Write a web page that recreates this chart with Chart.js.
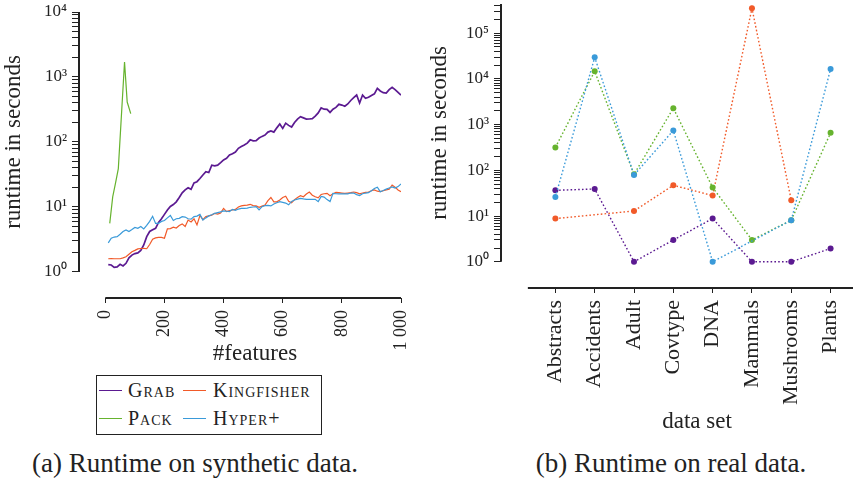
<!DOCTYPE html>
<html lang="en">
<head>
<meta charset="UTF-8">
<title>Runtime on synthetic and real data</title>
<style>
    body { margin: 0; background: #fff; font-family: "Liberation Serif", serif; color: #222; }
    #page { position: relative; width: 857px; height: 481px; overflow: hidden; }
    #synthBox { position: absolute; left: 0; top: 0; width: 420px; height: 370px; }
    #realBox { position: absolute; left: 420px; top: 0; width: 437px; height: 440px; }
    /* legend of the synthetic plot, boxed like the pgfplots one */
    #legend { position: absolute; left: 96px; top: 375px; width: 226px; height: 60px; box-sizing: border-box;
              border: 1px solid #222; font-size: 20px; font-variant: small-caps; letter-spacing: 1px; }
    #legend .sample { position: absolute; width: 23px; height: 0; border-top: 1.3px solid; }
    #legend .name { position: absolute; line-height: 20px; white-space: nowrap; }
    .caption { position: absolute; top: 450px; font-size: 27px; line-height: 27px; white-space: nowrap; transform: translateX(-50%); }
</style>
</head>
<body>
<div id="page">
    <div id="synthBox"><canvas id="synth"></canvas></div>
    <div id="realBox"><canvas id="real"></canvas></div>

    <div id="legend">
        <span class="sample" style="left:2px;top:14px;border-color:#5b1a91"></span><span class="name" style="left:31px;top:4px">Grab</span>
        <span class="sample" style="left:86px;top:14px;border-color:#f15a29"></span><span class="name" style="left:116px;top:4px">Kingfisher</span>
        <span class="sample" style="left:2px;top:42px;border-color:#66b32e"></span><span class="name" style="left:31px;top:32px">Pack</span>
        <span class="sample" style="left:86px;top:42px;border-color:#3a9ad9"></span><span class="name" style="left:116px;top:32px">Hyper+</span>
    </div>

    <div class="caption" style="left:195px">(a) Runtime on synthetic data.</div>
    <div class="caption" style="left:671px">(b) Runtime on real data.</div>
</div>

<script src="https://cdn.jsdelivr.net/npm/chart.js"></script>
<script>
    // ---- synthetic data: runtime (s) per number of features ----
    const features = [
        10, 20, 30, 40, 50, 60, 70, 80, 90, 100,
        110, 120, 130, 140, 150, 160, 170, 180, 190, 200,
        210, 220, 230, 240, 250, 260, 270, 280, 290, 300,
        310, 320, 330, 340, 350, 360, 370, 380, 390, 400,
        410, 420, 430, 440, 450, 460, 470, 480, 490, 500,
        510, 520, 530, 540, 550, 560, 570, 580, 590, 600,
        610, 620, 630, 640, 650, 660, 670, 680, 690, 700,
        710, 720, 730, 740, 750, 760, 770, 780, 790, 800,
        810, 820, 830, 840, 850, 860, 870, 880, 890, 900,
        910, 920, 930, 940, 950, 960, 970, 980, 990, 1000
    ];
    const grab = [
        1.30, 1.28, 1.18, 1.20, 1.31, 1.24, 1.36, 1.65, 1.82, 1.92,
        1.97, 2.15, 2.6, 3.5, 4.2, 4.45, 4.7, 5.8, 6.6, 7.7,
        9.0, 10.2, 10.9, 12.0, 14.0, 16.5, 18.3, 19.8, 18.7, 23.5,
        24.5, 27.4, 31, 35, 34, 44, 43, 44, 48, 53,
        56, 63, 66, 70, 80, 85, 90, 96, 108, 104,
        105, 115, 122, 128, 142, 148, 142, 165, 189, 162,
        195, 180, 170, 200, 225, 245, 235, 225, 226, 229,
        250, 280, 335, 320, 318, 285, 320, 340, 380, 370,
        355, 385, 435, 480, 527, 396, 527, 470, 487, 520,
        550, 670, 610, 575, 565, 640, 695, 640, 580, 527
    ];
    const kingfisher = [
        1.60, 1.61, 1.60, 1.60, 1.60, 1.65, 1.72, 1.88, 2.05, 2.15,
        2.27, 2.30, 2.31, 2.28, 2.65, 3.2, 3.35, 3.4, 3.41, 3.3,
        4.6, 4.65, 4.9, 4.75, 5.2, 5.5, 5.0, 6.3, 5.9, 6.6,
        5.3, 7.4, 6.4, 7.1, 7.3, 7.5, 8.0, 7.8, 8.1, 9.5,
        8.5, 8.8, 9.0, 9.2, 10.0, 10.4, 10.6, 10.7, 11.0, 10.5,
        10.4, 9.9, 10.3, 10.7, 12.5, 14.0, 12.0, 12.0, 12.8, 14.0,
        14.6, 12.2, 11.6, 13.0, 14.0, 14.9, 14.4, 15.8, 17.0, 15.2,
        14.4, 13.8, 15.6, 16.0, 16.2, 14.9, 16.0, 16.8, 16.6, 16.4,
        16.2, 16.4, 16.6, 17.0, 16.6, 15.9, 16.4, 16.8, 17.0, 17.8,
        18.3, 17.5, 17.2, 17.8, 18.3, 18.7, 21.8, 20.2, 18.3, 17.2
    ];
    const hyper = [
        2.8, 3.3, 3.45, 3.5, 3.8, 4.2, 4.45, 4.2, 4.5, 4.85,
        4.7, 5.0, 4.6, 5.2, 6.0, 7.2, 5.6, 5.6, 6.0, 6.2,
        6.8, 7.4, 6.2, 6.6, 6.7, 7.1, 7.0, 6.6, 6.5, 7.1,
        7.25, 7.7, 6.3, 6.8, 7.3, 7.6, 8.0, 8.2, 8.4, 8.7,
        8.6, 8.5, 9.2, 8.9, 9.3, 9.55, 9.55, 9.6, 9.9, 10.0,
        10.1, 9.0, 10.1, 10.5, 10.6, 10.4, 11.1, 11.6, 12.1, 11.8,
        11.5, 10.8, 12.2, 12.8, 13.2, 13.6, 13.3, 13.1, 13.1, 13.1,
        13.1, 12.1, 14.5, 14.2, 13.0, 12.1, 16.2, 16.0, 15.9, 15.9,
        15.9, 15.9, 16.4, 16.4, 15.5, 15.0, 16.0, 16.4, 16.6, 17.8,
        19.2, 20.2, 17.2, 17.9, 18.8, 19.6, 20.4, 19.5, 20.6, 22.6
    ];
    // Pack only finishes on the smallest instances
    const packFeatures = [15, 25, 35, 44, 65, 74, 86];
    const pack = [5.6, 14.3, 24, 39, 1700, 412, 273];

    // ---- real data: runtime (s) per data set, null = no result ----
    const dataSets = ['Abstracts', 'Accidents', 'Adult', 'Covtype', 'DNA', 'Mammals', 'Mushrooms', 'Plants'];
    const realGrab = [36.5, 39, 1, 3, 8.8, 1, 1, 1.95];
    const realKingfisher = [8.8, null, 12.9, 47, 28, 350000, 22, null];
    const realPack = [316, 14600, 81.5, 2280, 42, 3, 8.1, 660];
    const realHyper = [26, 29500, 79, 742, 1, null, 8.1, 16400];

    // ---- tick labels ----
    const featureTicks = [0, 200, 400, 600, 800, 1000];
    const featureTickLabels = ['0', '200', '400', '600', '800', '1 000'];
    const synthDecades = [1, 10, 100, 1000, 10000];
    const synthDecadeLabels = ['10⁰', '10¹', '10²', '10³', '10⁴'];
    const realDecades = [1, 10, 100, 1000, 10000, 100000];
    const realDecadeLabels = ['10⁰', '10¹', '10²', '10³', '10⁴', '10⁵'];

    const ink = '#222';
    const serif = '"Liberation Serif", serif';
    const colGrab = '#5b1a91', colKing = '#f15a29', colPack = '#66b32e', colHyper = '#3a9ad9';

    Chart.defaults.font.family = serif;
    Chart.defaults.color = ink;

    function pts(xs, ys) {
        return xs.map((x, i) => ({ x: x, y: ys[i] }));
    }

    // major + minor ticks (1..9 times each decade) up to the top of the axis
    function logTicks(decades, top) {
        const out = [];
        decades.forEach(d => {
            for (let m = 1; m <= 9; m++) if (m * d <= top) out.push({ value: m * d });
        });
        return out;
    }

    // keep the chart area exactly where the fixed box sizes put it
    function noPadding(scale) {
        scale.paddingTop = 0; scale.paddingBottom = 0;
        scale.paddingLeft = 0; scale.paddingRight = 0;
    }

    // pgfplots style: axis lines detached from each other, titles placed by hand
    const separatedAxes = {
        id: 'separatedAxes',
        afterDraw(chart, args, opts) {
            const { ctx, chartArea, scales } = chart;
            const x = scales.x, y = scales.y;
            const left = chartArea.left, bottom = chartArea.bottom;
            const yTop = opts.yTo == null ? chartArea.top : y.getPixelForValue(opts.yTo);
            const xEnd = opts.xTo == null ? chartArea.right : x.getPixelForValue(opts.xTo);

            ctx.save();
            ctx.strokeStyle = ink;
            ctx.lineWidth = 2;
            ctx.beginPath();
            ctx.moveTo(left, y.getPixelForValue(opts.yFrom));
            ctx.lineTo(left, yTop);
            ctx.moveTo(x.getPixelForValue(opts.xFrom), bottom);
            ctx.lineTo(xEnd, bottom);
            ctx.stroke();
            ctx.restore();

            ctx.save();
            ctx.fillStyle = ink;
            ctx.font = '23px ' + serif;
            ctx.textAlign = 'center';
            ctx.textBaseline = 'middle';
            ctx.fillText(opts.xTitle, opts.xTitleAt[0], opts.xTitleAt[1]);
            ctx.translate(opts.yTitleAt[0], opts.yTitleAt[1]);
            ctx.rotate(-Math.PI / 2);
            ctx.fillText(opts.yTitle, 0, 0);
            ctx.restore();
        }
    };

    const tickGrid = len => ({ display: true, drawOnChartArea: false, drawTicks: true, tickLength: len, color: ink, lineWidth: 1 });

    // (a) synthetic data
    new Chart(document.getElementById('synth'), {
        type: 'line',
        data: {
            datasets: [
                { label: 'Grab', data: pts(features, grab), borderColor: colGrab, borderWidth: 1.7, order: 3 },
                { label: 'Kingfisher', data: pts(features, kingfisher), borderColor: colKing, borderWidth: 1.2, order: 2 },
                { label: 'Pack', data: pts(packFeatures, pack), borderColor: colPack, borderWidth: 1.2, order: 1 },
                { label: 'Hyper+', data: pts(features, hyper), borderColor: colHyper, borderWidth: 1.2, order: 0 }
            ]
        },
        options: {
            responsive: true,
            maintainAspectRatio: false,
            animation: false,
            layout: { padding: { top: 12, right: 19, left: 0, bottom: 0 } },
            elements: { point: { radius: 0 }, line: { tension: 0, fill: false } },
            plugins: {
                legend: { display: false },
                tooltip: { enabled: false },
                separatedAxes: {
                    yFrom: 1, yTo: 10000, xFrom: 0, xTo: 1000,
                    xTitle: '#features', xTitleAt: [255, 354],
                    yTitle: 'runtime in seconds', yTitleAt: [14, 142]
                }
            },
            scales: {
                x: {
                    type: 'linear', min: -89, max: 1000,
                    border: { display: false },
                    grid: tickGrid(5),
                    afterBuildTicks: s => { s.ticks = featureTicks.map(v => ({ value: v })); },
                    afterFit: s => { s.height = 72; noPadding(s); },
                    ticks: {
                        autoSkip: false, minRotation: 90, maxRotation: 90, padding: 7,
                        font: { size: 18 },
                        callback: v => featureTickLabels[featureTicks.indexOf(v)]
                    }
                },
                y: {
                    type: 'logarithmic', min: 0.398, max: 10000,
                    border: { display: false },
                    grid: tickGrid(7),
                    afterBuildTicks: s => { s.ticks = logTicks(synthDecades, 10000); },
                    afterFit: s => { s.width = 79; noPadding(s); },
                    ticks: {
                        autoSkip: false, padding: 5,
                        font: { size: 17 },
                        callback: v => {
                            const i = synthDecades.indexOf(v);
                            return i < 0 ? '' : synthDecadeLabels[i];
                        }
                    }
                }
            }
        },
        plugins: [separatedAxes]
    });

    // (b) real data
    const dataSetIndex = dataSets.map((name, i) => i);
    const dotted = color => ({
        borderColor: color, backgroundColor: color, pointBackgroundColor: color,
        borderWidth: 1.4, borderDash: [1.6, 2.2], pointRadius: 3, pointBorderWidth: 0, spanGaps: true
    });

    new Chart(document.getElementById('real'), {
        type: 'line',
        data: {
            datasets: [
                Object.assign({ label: 'Grab', data: pts(dataSetIndex, realGrab), order: 3 }, dotted(colGrab)),
                Object.assign({ label: 'Kingfisher', data: pts(dataSetIndex, realKingfisher), order: 2 }, dotted(colKing)),
                Object.assign({ label: 'Pack', data: pts(dataSetIndex, realPack), order: 1 }, dotted(colPack)),
                Object.assign({ label: 'Hyper+', data: pts(dataSetIndex, realHyper), order: 0 }, dotted(colHyper))
            ]
        },
        options: {
            responsive: true,
            maintainAspectRatio: false,
            animation: false,
            layout: { padding: { top: 3, right: 0, left: 0, bottom: 0 } },
            elements: { line: { tension: 0, fill: false } },
            plugins: {
                legend: { display: false },
                tooltip: { enabled: false },
                separatedAxes: {
                    yFrom: 1, yTo: null, xFrom: -0.7, xTo: null,
                    xTitle: 'data set', xTitleAt: [277, 422],
                    yTitle: 'runtime in seconds', yTitleAt: [20, 133]
                }
            },
            scales: {
                x: {
                    type: 'linear', min: -1.383, max: 7.57,
                    border: { display: false },
                    grid: tickGrid(5),
                    afterBuildTicks: s => { s.ticks = dataSetIndex.map(i => ({ value: i })); },
                    afterFit: s => { s.height = 152; noPadding(s); },
                    ticks: {
                        autoSkip: false, minRotation: 90, maxRotation: 90, padding: 7,
                        font: { size: 22 },
                        callback: (v, i) => dataSets[i]
                    }
                },
                y: {
                    type: 'logarithmic', min: 0.267, max: 432500,
                    border: { display: false },
                    grid: tickGrid(7),
                    afterBuildTicks: s => { s.ticks = logTicks(realDecades, 432500); },
                    afterFit: s => { s.width = 81; noPadding(s); },
                    ticks: {
                        autoSkip: false, padding: 5,
                        font: { size: 17 },
                        callback: v => {
                            const i = realDecades.indexOf(v);
                            return i < 0 ? '' : realDecadeLabels[i];
                        }
                    }
                }
            }
        },
        plugins: [separatedAxes]
    });
</script>
</body>
</html>
